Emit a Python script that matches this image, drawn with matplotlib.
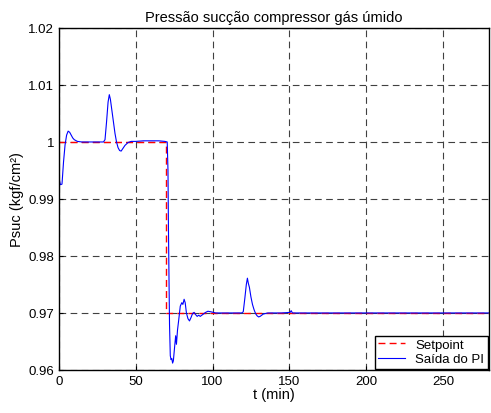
import matplotlib.pyplot as plt

plt.rcParams['font.family'] = ['Liberation Sans', 'DejaVu Sans']

# setpoint (degrau em t = 70 min)
t_sp = [0, 70, 70, 280]
p_sp = [1.0, 1.0, 0.97, 0.97]

# saida do controlador PI
t_pi = [0, 1, 2, 3, 4, 5, 6, 7, 8, 9, 10, 12, 15, 20, 25, 29, 30, 31, 32, 32.8,
        33.5, 34.5, 35.5, 36.5, 37.5, 38.5, 39.5, 40.5, 41.5, 43, 45, 47, 50, 55,
        60, 65, 69, 70.5, 71, 71.3, 71.7, 72, 72.5, 73, 73.5, 74, 74.5, 75.3, 76,
        76.5, 77.2, 78, 79, 80, 80.7, 81.5, 82.2, 83, 84, 85, 86, 87, 88, 89, 90,
        91, 92, 93.5, 95.5, 97, 99, 102, 110, 119, 120, 121, 122, 122.7, 123.3,
        124, 125, 126, 127, 128, 129, 130, 131, 133, 136, 145, 150.5, 151.2, 152,
        160, 280]
p_pi = [0.9937, 0.9925, 0.9926, 0.9965, 0.9995, 1.0012, 1.0019, 1.0017, 1.0012,
        1.0007, 1.0004, 1.0001, 1.0, 1.0, 1.0, 1.0, 1.0004, 1.0035, 1.0070, 1.0083,
        1.0075, 1.0055, 1.0035, 1.0015, 1.0000, 0.9990, 0.9985, 0.9984, 0.9988,
        0.9994, 0.9999, 1.0001, 1.0001, 1.0002, 1.0002, 1.0002, 1.0001, 1.0000,
        0.995, 0.985, 0.975, 0.968, 0.9625, 0.9618, 0.9620, 0.9612, 0.9616, 0.9640,
        0.9660, 0.9645, 0.9670, 0.9688, 0.9712, 0.9718, 0.9715, 0.9724, 0.9718,
        0.9700, 0.9690, 0.9686, 0.9692, 0.9699, 0.9701, 0.9697, 0.9694, 0.9696,
        0.9694, 0.9697, 0.9701, 0.9703, 0.9702, 0.9700, 0.9700, 0.9700, 0.9702,
        0.9725, 0.9750, 0.9761, 0.9752, 0.9745, 0.9728, 0.9715, 0.9706, 0.9699,
        0.9695, 0.9693, 0.9694, 0.9698, 0.9700, 0.9700, 0.9701, 0.9704, 0.9700,
        0.9700, 0.9700]

x_ticks = [0, 50, 100, 150, 200, 250]
y_ticks = [0.96, 0.97, 0.98, 0.99, 1.0, 1.01, 1.02]
y_labels = ['0.96', '0.97', '0.98', '0.99', '1', '1.01', '1.02']

fig = plt.figure(figsize=(4.91, 4.14), dpi=100)
ax = fig.add_axes([0.120, 0.104, 0.876, 0.826])

ax.plot(t_sp, p_sp, color='red', linestyle=(0, (5, 3)), linewidth=1.0, label='Setpoint')
ax.plot(t_pi, p_pi, color='blue', linewidth=0.8, label='Saída do PI')

ax.set_xlim(0, 280)
ax.set_ylim(0.96, 1.02)
ax.set_xticks(x_ticks)
ax.set_yticks(y_ticks)
ax.set_yticklabels(y_labels)
ax.tick_params(direction='in', labelsize=9.5, length=3)
ax.grid(True, color='#404040', linestyle=(0, (6, 4)), linewidth=0.8)
for s in ax.spines.values():
    s.set_linewidth(1.0)

ax.set_title('Pressão sucção compressor gás úmido', fontsize=10.5, pad=5)
ax.set_xlabel('t (min)', fontsize=10.5, labelpad=0)
ax.set_ylabel('Psuc (kgf/cm²)', fontsize=10.5, labelpad=3)

leg = ax.legend(loc='lower right', fontsize=9.5, fancybox=False, framealpha=1,
                edgecolor='black', borderaxespad=0.1, handlelength=2.0,
                borderpad=0.25, labelspacing=0.15)
leg.get_frame().set_linewidth(1.0)

fig.savefig('out.png', dpi=100)
